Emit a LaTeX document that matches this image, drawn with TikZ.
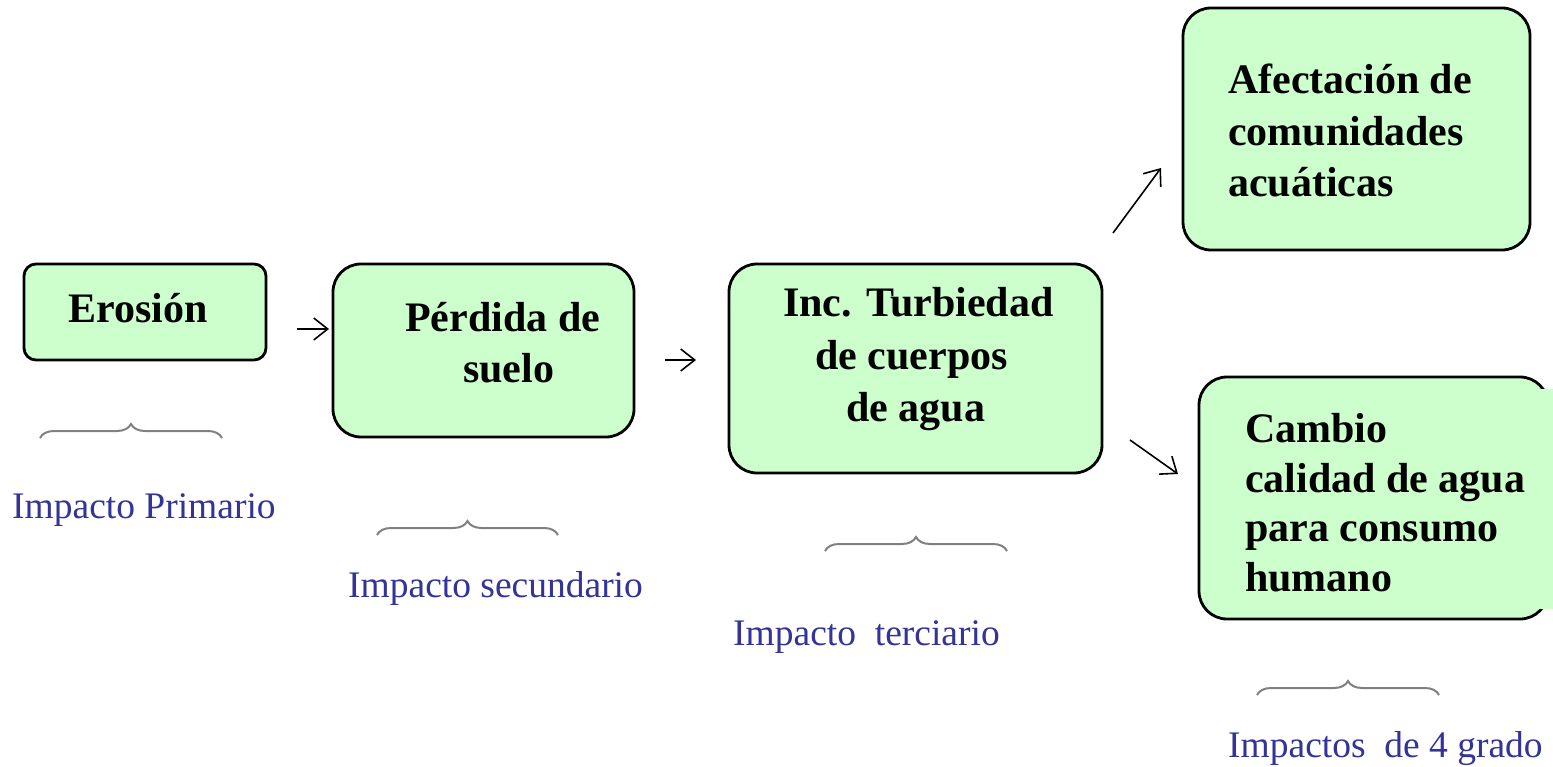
\documentclass[tikz,border=0pt]{standalone}
\usepackage{fontspec}
\setmainfont{Liberation Serif}
\usetikzlibrary{arrows.meta,decorations.pathreplacing}
\definecolor{boxgreen}{RGB}{204,255,204}
\definecolor{lblue}{RGB}{51,51,153}
\definecolor{bracegray}{RGB}{128,128,128}
\tikzset{
  impbox/.style={draw=black, line width=2.8pt, fill=boxgreen, inner sep=0pt, rounded corners=#1},
  impbox/.default=28pt,
  boxtxt/.style={inner sep=0pt, font=\fontsize{42}{50}\selectfont\bfseries, anchor=base west},
  lbl/.style={inner sep=0pt, text=lblue, font=\fontsize{37.5}{45}\selectfont, anchor=base west},
  conn/.style={line width=1.6pt, -{Straight Barb[length=14pt,width=22pt]}},
  impbrace/.style={draw=bracegray, line width=2pt, decorate, decoration={brace, amplitude=14pt}},
}
\begin{document}
\begin{tikzpicture}[x=1pt,y=-1pt]
\useasboundingbox[fill=white] (0,0) rectangle (1553,767);

% boxes
\node[impbox=12pt, minimum width=242pt, minimum height=96pt] (ero) at (145,312) {};
\node[impbox, minimum width=301pt, minimum height=173pt] (per) at (483.5,350.5) {};
\node[impbox, minimum width=373pt, minimum height=209pt] (inc) at (915.5,368.5) {};
\node[impbox, minimum width=347pt, minimum height=242pt] (afe) at (1356.5,129) {};
\node[impbox, minimum width=349pt, minimum height=242pt] (cam) at (1373.5,498) {};
\fill[boxgreen] (1538,389) rectangle (1553,609);

% box texts
\node[boxtxt] (eroT) at (68,323) {Erosión};
\node[boxtxt] (perT1) at (405,332) {Pérdida de};
\node[boxtxt] (perT2) at (463,382) {suelo};
\node[boxtxt] (incT1) at (783,317) {Inc. Turbiedad};
\node[boxtxt] (incT2) at (815,369) {de cuerpos};
\node[boxtxt] (incT3) at (846,421) {de agua};
\node[boxtxt] (afeT1) at (1228,94) {Afectación de};
\node[boxtxt] (afeT2) at (1228,146) {comunidades};
\node[boxtxt] (afeT3) at (1228,197) {acuáticas};
\node[boxtxt] (camT1) at (1245,442) {Cambio};
\node[boxtxt] (camT2) at (1245,492) {calidad de agua};
\node[boxtxt] (camT3) at (1245,541) {para consumo};
\node[boxtxt] (camT4) at (1245,591) {humano};

% arrows
\coordinate (a1s) at (297,329); \coordinate (a1e) at (329,329);
\coordinate (a2s) at (665,360); \coordinate (a2e) at (696,360);
\coordinate (a3s) at (1113,233); \coordinate (a3e) at (1161,168);
\coordinate (a4s) at (1130,440); \coordinate (a4e) at (1178,474);
\draw[conn] (a1s) -- (a1e);
\draw[conn] (a2s) -- (a2e);
\draw[conn] (a3s) -- (a3e);
\draw[conn] (a4s) -- (a4e);

% braces
\coordinate (b1l) at (40,438);   \coordinate (b1r) at (222,438);
\coordinate (b2l) at (377,535);  \coordinate (b2r) at (558,535);
\coordinate (b3l) at (825,551);  \coordinate (b3r) at (1007,551);
\coordinate (b4l) at (1257,695); \coordinate (b4r) at (1439,695);
\draw[impbrace] (b1l) -- (b1r);
\draw[impbrace] (b2l) -- (b2r);
\draw[impbrace] (b3l) -- (b3r);
\draw[impbrace] (b4l) -- (b4r);

% labels
\node[lbl] (l1) at (12,518) {Impacto Primario};
\node[lbl] (l2) at (348,597) {Impacto secundario};
\node[lbl] (l3) at (733,645) {Impacto\ \ terciario};
\node[lbl] (l4) at (1228,757) {Impactos\ \ de 4 grado};
\end{tikzpicture}
\end{document}
